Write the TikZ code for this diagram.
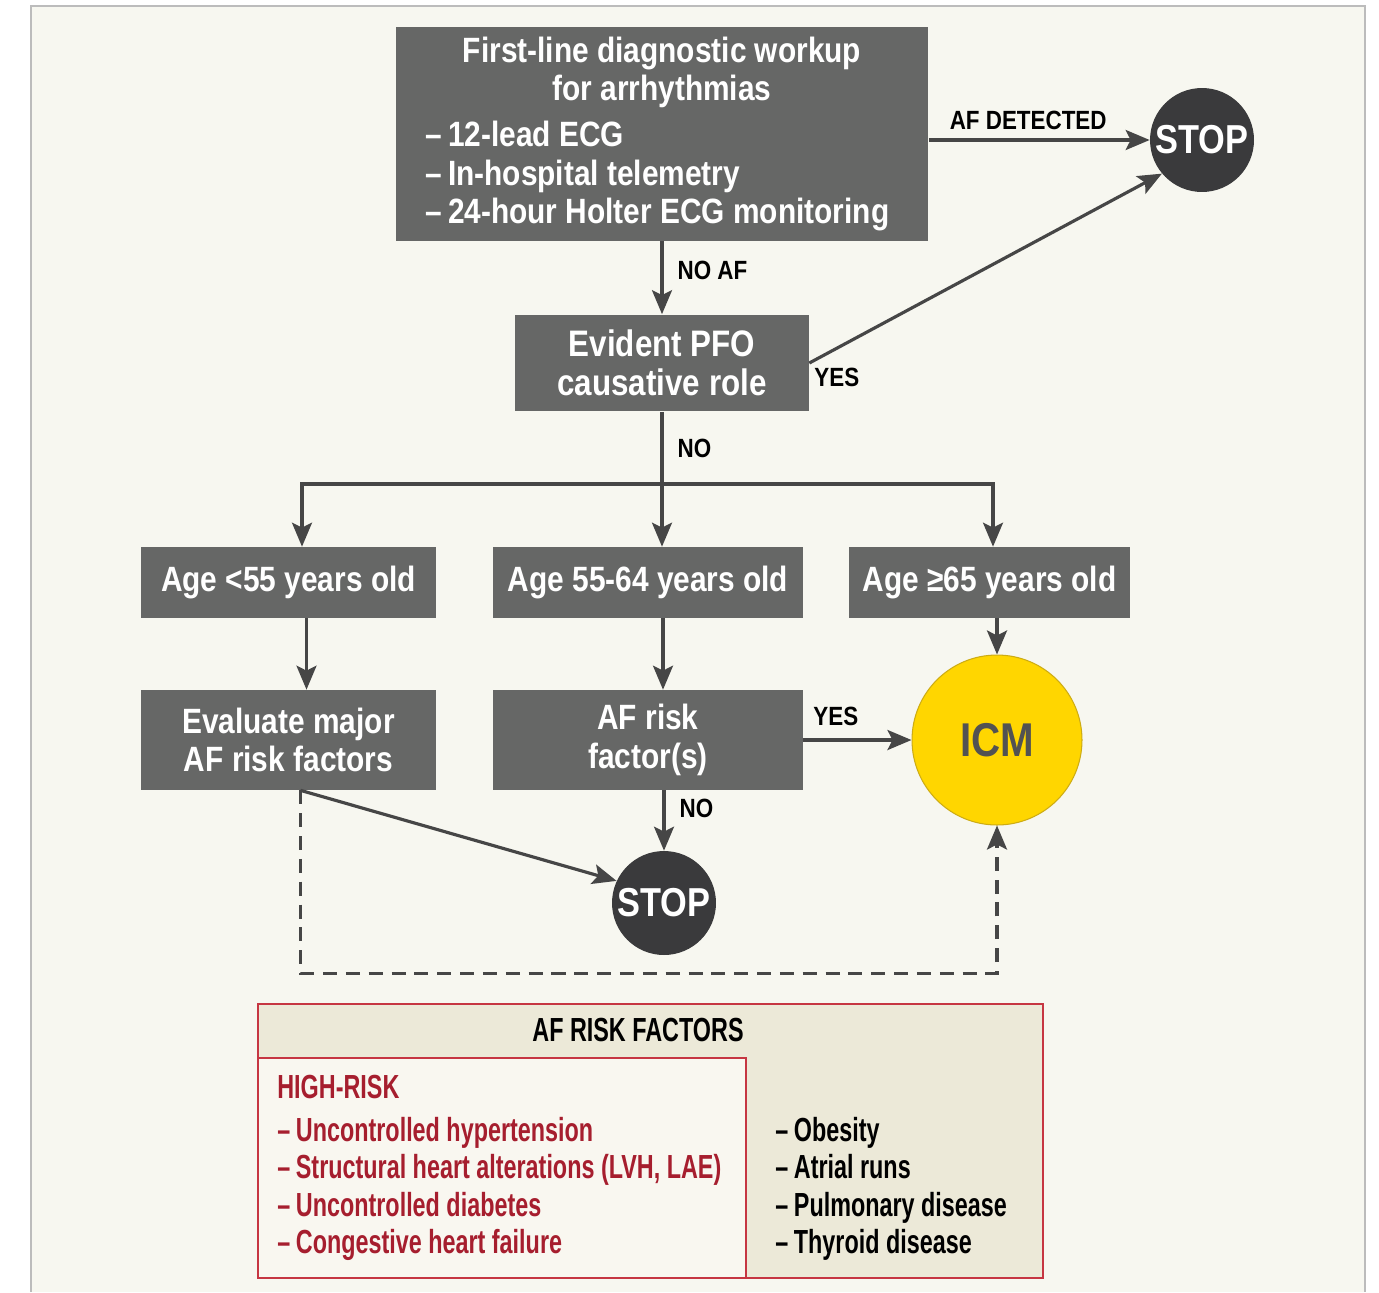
\documentclass[tikz,border=0pt]{standalone}
\usepackage{fontspec}
\newfontfamily\boxfont{Liberation Sans}[FakeStretch=0.85]
\newfontfamily\riskfont{Liberation Sans}[FakeStretch=0.7]
\usetikzlibrary{arrows.meta, positioning, calc}
\definecolor{boxgray}{RGB}{102,103,102}
\definecolor{stopgray}{RGB}{58,58,60}
\definecolor{linegray}{RGB}{70,70,70}
\definecolor{cream}{RGB}{247,247,240}
\definecolor{framegray}{RGB}{188,188,188}
\definecolor{icmyellow}{RGB}{255,214,0}
\definecolor{icmborder}{RGB}{205,172,20}
\definecolor{riskred}{RGB}{166,30,46}
\definecolor{riskborder}{RGB}{198,54,66}
\definecolor{riskbeige}{RGB}{236,233,216}
\definecolor{highbeige}{RGB}{249,247,240}
\tikzset{
    stepbox/.style={
           rectangle,
           fill=boxgray,
           text=white,
           inner sep=0pt,
           align=center,
           font=\boxfont\bfseries\fontsize{20}{22}\selectfont,
           },
    stopnode/.style={
           circle,
           fill=stopgray,
           text=white,
           minimum size=2.08cm,
           inner sep=0pt,
           font=\boxfont\bfseries\fontsize{23}{23}\selectfont,
           },
    icmnode/.style={
           circle,
           fill=icmyellow,
           draw=icmborder, line width=0.6pt,
           minimum size=3.4cm,
           text=black!68,
           font=\boxfont\bfseries\fontsize{27}{27}\selectfont,
           },
    answer/.style={text=black, inner sep=2pt, font=\boxfont\bfseries\fontsize{15}{15}\selectfont},
    flow/.style={draw=linegray, line width=1.8pt, -{Stealth[length=0.48cm, width=0.4cm, inset=0.1cm]}},
    plainline/.style={draw=linegray, line width=1.8pt},
    dashline/.style={flow, dash pattern=on 8pt off 5pt},
    riskframe/.style={rectangle, draw=riskborder, line width=1.2pt, fill=riskbeige, inner sep=0pt},
    risktext/.style={inner sep=0pt, text=black, align=left, font=\riskfont\bfseries\fontsize{19}{21.3}\selectfont},
}
\newcommand{\dashitem}[1]{–\,#1}

\begin{document}
\begin{tikzpicture}[x=0.02cm, y=-0.02cm]
      \useasboundingbox (0,0) rectangle (1379,1292);
      \fill[white] (0,0) rectangle (1379,1292);
      \fill[cream] (31,6) rectangle (1365,1292);
      \draw[framegray, line width=1.2pt] (31,1292) -- (31,6) -- (1365,6) -- (1365,1292);
      % flow nodes
      \node[stepbox, minimum width=10.66cm, minimum height=4.28cm, text width=9.46cm, align=left] (workup) at (662,134)
           {\spaceskip=0pt\xspaceskip=0pt
            {\centering First-line diagnostic workup\\for arrhythmias\par}\raggedright\vspace{4pt}%
            \dashitem{12-lead ECG}\\\dashitem{In-hospital telemetry}\\\dashitem{24-hour Holter ECG monitoring}};
      \node[stopnode]                                              (stop1)  at (1202,140) {STOP};
      \node[stepbox, minimum width=5.88cm, minimum height=1.94cm, font=\boxfont\bfseries\fontsize{21}{22.5}\selectfont]
                                                                   (pfo)    at (662,363)  {Evident PFO\\causative role};
      \node[stepbox, minimum width=5.9cm,  minimum height=1.42cm] (age1)   at (288.5,582.5) {Age <55 years old};
      \node[stepbox, minimum width=6.2cm,  minimum height=1.42cm] (age2)   at (648,582.5)   {Age 55-64 years old};
      \node[stepbox, minimum width=5.62cm, minimum height=1.42cm] (age3)   at (989.5,582.5) {Age ≥65 years old};
      \node[stepbox, minimum width=5.9cm,  minimum height=2.0cm]  (eval)   at (288.5,740)   {Evaluate major\\AF risk factors};
      \node[stepbox, minimum width=6.2cm,  minimum height=2.0cm]  (afrisk) at (648,740)     {AF risk\\factor(s)};
      \node[icmnode]                                               (icm)    at (997,740)  {ICM};
      \node[stopnode]                                              (stop2)  at (664,903)  {STOP};
      \coordinate (split)    at (662,484);
      \coordinate (lsplit)   at (302,484);
      \coordinate (rsplit)   at (993,484);
      \coordinate (evalfoot) at ($(eval.south)+(12,0)$);
      % connectors
      \draw[flow] (workup.east |- stop1) -- node[answer, above=3pt, pos=0.45]{AF DETECTED} (stop1);
      \draw[flow] (workup.south) -- node[answer, right=6pt, pos=0.4]{NO AF} (pfo.north);
      \draw[flow] (pfo.east) -- node[answer, pos=0, below right]{YES} (stop1.220);
      \draw[plainline] (pfo.south) -- node[answer, right=6pt]{NO} (split);
      \draw[flow] (split) -| (lsplit |- age1.north);
      \draw[flow] (split) -| (rsplit |- age3.north);
      \draw[flow] (split) -- (split |- age2.north);
      \draw[flow] ($(age1.south)+(18,0)$) -- ($(eval.north)+(18,0)$);
      \draw[flow] ($(age2.south)+(15,0)$) -- ($(afrisk.north)+(15,0)$);
      \draw[flow] (age3.south -| icm) -- (icm.north);
      \draw[flow] (afrisk.east) -- node[answer, above=5pt, pos=0.3]{YES} (icm.west);
      \draw[flow] (afrisk.south -| stop2) -- node[answer, right=6pt, pos=0.3]{NO} (stop2);
      \draw[flow] (evalfoot) -- (stop2.155);
      \draw[dashline] (evalfoot) -- ++(0,183) -| (icm.south);
      % risk factor table
      \node[riskframe, minimum width=15.7cm, minimum height=5.48cm]                  (riskbox)  at (650.5,1141) {};
      \node[riskframe, fill=highbeige, minimum width=9.76cm, minimum height=4.4cm]  (highbox)  at (502,1168)   {};
      \node[risktext]                          (riskhead)  at (638,1030) {AF RISK FACTORS};
      \node[risktext, text=riskred, anchor=west] (highhead) at (277,1087) {HIGH-RISK};
      \node[risktext, text=riskred, anchor=west] (highlist) at (277,1189)
           {\dashitem{Uncontrolled hypertension}\\\dashitem{Structural heart alterations (LVH, LAE)}\\
            \dashitem{Uncontrolled diabetes}\\\dashitem{Congestive heart failure}};
      \node[risktext, anchor=west]             (otherlist) at (775,1189)
           {\dashitem{Obesity}\\\dashitem{Atrial runs}\\\dashitem{Pulmonary disease}\\\dashitem{Thyroid disease}};
    \end{tikzpicture}
\end{document}
